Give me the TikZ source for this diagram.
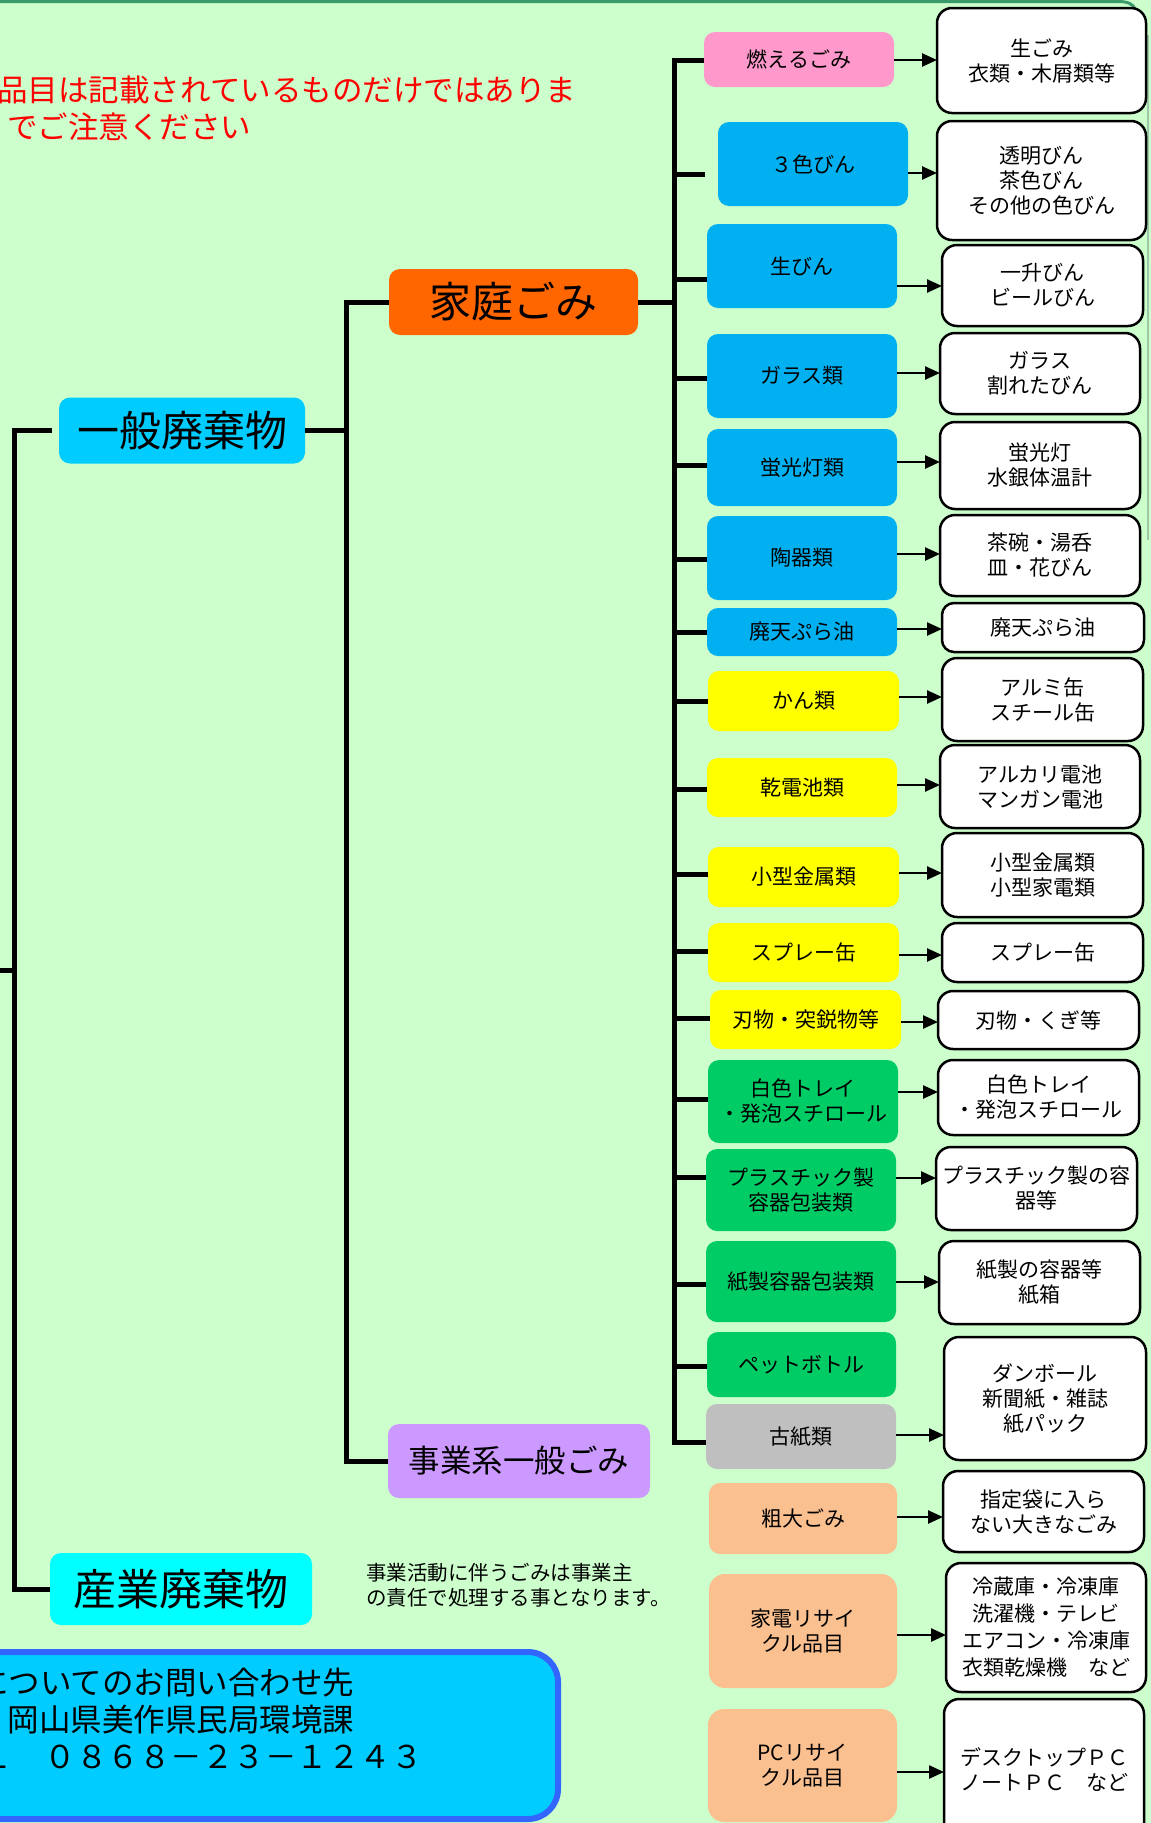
\documentclass[tikz,border=0pt]{standalone}
\usepackage{fontspec}
\setmainfont{Noto Sans CJK JP}
\usetikzlibrary{arrows.meta}
\definecolor{bgc}{HTML}{CCFFCC}
\definecolor{pinkc}{HTML}{FF99CC}
\definecolor{bluec}{HTML}{00B0F0}
\definecolor{yellowc}{HTML}{FFFF00}
\definecolor{greenc}{HTML}{00CC66}
\definecolor{grayc}{HTML}{BFBFBF}
\definecolor{peachc}{HTML}{FAC090}
\definecolor{ippanc}{HTML}{00CCFF}
\definecolor{kateic}{HTML}{FF6600}
\definecolor{jigyoc}{HTML}{CC99FF}
\definecolor{sangyoc}{HTML}{00FFFF}
\definecolor{contactb}{HTML}{3366FF}
\definecolor{framec}{HTML}{3A9A6A}
\definecolor{framel}{HTML}{9CC8A8}
\newcommand\tickto[2]{\coordinate (t#1) at (674.5,#2); \draw[trunk] (t#1) -- (t#1 -| c#1.west);}
\newcommand\arrowat[2]{\coordinate (y#1) at (0,#2); \draw[arr] (y#1 -| c#1.east) -- (y#1 -| r#1.west);}
\begin{document}
\begin{tikzpicture}[x=1pt,y=-1pt,
  cat/.style={rounded corners=11pt, inner sep=0pt, outer sep=0pt, align=center, text=black, font=\fontsize{21}{25}\selectfont},
  res/.style={draw=black, line width=2.5pt, fill=white, rounded corners=15pt, inner sep=0pt, outer sep=0pt, align=center, font=\fontsize{21}{25}\selectfont},
  big/.style={rounded corners=11pt, inner sep=0pt, outer sep=0pt, align=center},
  trunk/.style={line width=5pt, black},
  arr/.style={line width=2.5pt, black, -{Triangle[length=15pt,width=13pt]}},
  plain/.style={inner sep=0pt, outer sep=0pt}
]
\useasboundingbox (0,0) rectangle (1151,1823);
\clip (0,0) rectangle (1151,1823);
\fill[bgc] (0,0) rectangle (1151,1823);
% frame remnants
\draw[framec, line width=3pt] (-10,1.5) -- (1118,1.5) .. controls (1128,1.5) and (1133,4) .. (1135,9);
\draw[framel, line width=1.5pt] (1148,35) -- (1148,540);

% warning text
\node[plain, anchor=east, text=red, font=\fontsize{30.5}{36}\selectfont] (warn1) at (576,90) {品目は記載されているものだけではありま};
\node[plain, anchor=west, text=red, font=\fontsize{30.5}{36}\selectfont] (warn2) at (7,127) {でご注意ください};

% upper level boxes
\node[big, fill=ippanc, minimum width=246pt, minimum height=66pt, font=\fontsize{42}{46}\selectfont] (ippan) at (182,430.5) {一般廃棄物};
\node[big, fill=kateic, minimum width=249pt, minimum height=66pt, font=\fontsize{42}{46}\selectfont] (katei) at (513.5,302) {家庭ごみ};
\node[big, fill=jigyoc, minimum width=262pt, minimum height=74pt, font=\fontsize{31.5}{35}\selectfont] (jigyo) at (519,1461) {事業系一般ごみ};
\node[big, fill=sangyoc, minimum width=262pt, minimum height=72pt, font=\fontsize{43}{47}\selectfont] (sangyo) at (181,1589) {産業廃棄物};

% level 1 lines
\coordinate (a1) at (52,430.5);
\coordinate (lvtop) at (14.5,430.5);
\coordinate (lvbot) at (14.5,1589);
\draw[trunk] (a1) -- (lvtop) -- (lvbot) -- (sangyo.west);
\coordinate (lvtick) at (14.5,970);
\coordinate (offl) at (-5,970);
\draw[trunk] (lvtick) -- (offl);

% level 2 lines
\coordinate (v2top) at (346.5,302);
\coordinate (v2bot) at (346.5,1461);
\draw[trunk] (katei.west) -- (v2top) -- (v2bot) -- (jigyo.west);
\draw[trunk] (ippan.east) -- (ippan.east -| v2top);

% category boxes
\node[cat, fill=pinkc,   minimum width=190pt, minimum height=55pt] (c1) at (799,59.5) {燃えるごみ};
\node[cat, fill=bluec,   minimum width=190pt, minimum height=84pt] (c2) at (813,164) {３色びん};
\node[cat, fill=bluec,   minimum width=190pt, minimum height=84pt] (c3) at (802,266) {生びん};
\node[cat, fill=bluec,   minimum width=190pt, minimum height=84pt] (c4) at (802,376) {ガラス類};
\node[cat, fill=bluec,   minimum width=190pt, minimum height=77pt] (c5) at (802,467.5) {蛍光灯類};
\node[cat, fill=bluec,   minimum width=190pt, minimum height=84pt] (c6) at (802,558) {陶器類};
\node[cat, fill=bluec,   minimum width=190pt, minimum height=48pt] (c7) at (802,632) {廃天ぷら油};
\node[cat, fill=yellowc, minimum width=191pt, minimum height=60pt] (c8) at (803.5,701) {かん類};
\node[cat, fill=yellowc, minimum width=190pt, minimum height=59pt] (c9) at (802,787.5) {乾電池類};
\node[cat, fill=yellowc, minimum width=191pt, minimum height=60pt] (c10) at (803.5,877) {小型金属類};
\node[cat, fill=yellowc, minimum width=191pt, minimum height=59pt] (c11) at (803.5,952.5) {スプレー缶};
\node[cat, fill=yellowc, minimum width=191pt, minimum height=59pt] (c12) at (805.5,1019.5) {刃物・突鋭物等};
\node[cat, fill=greenc,  minimum width=190pt, minimum height=83pt] (c13) at (803,1101.5) {白色トレイ\\・発泡スチロール};
\node[cat, fill=greenc,  minimum width=190pt, minimum height=82pt] (c14) at (801,1190) {プラスチック製\\容器包装類};
\node[cat, fill=greenc,  minimum width=190pt, minimum height=81pt] (c15) at (801,1281.5) {紙製容器包装類};
\node[cat, fill=greenc,  minimum width=189pt, minimum height=65pt] (c16) at (801.5,1364.5) {ペットボトル};
\node[cat, fill=grayc,   minimum width=190pt, minimum height=65pt] (c17) at (801,1436.5) {古紙類};
\node[cat, fill=peachc,  minimum width=188pt, minimum height=71pt] (c18) at (803,1518.5) {粗大ごみ};
\node[cat, fill=peachc,  minimum width=188pt, minimum height=114pt, rounded corners=16pt] (c19) at (803,1631) {家電リサイ\\クル品目};
\node[cat, fill=peachc,  minimum width=189pt, minimum height=113pt, rounded corners=16pt] (c20) at (802.5,1765.5) {PCリサイ\\クル品目};

% result boxes
\node[res, minimum width=209pt, minimum height=105pt] (r1) at (1041.5,60.5) {生ごみ\\衣類・木屑類等};
\node[res, minimum width=209pt, minimum height=119pt] (r2) at (1041.5,180.5) {透明びん\\茶色びん\\その他の色びん};
\node[res, minimum width=201pt, minimum height=81pt] (r3) at (1042.5,285.5) {一升びん\\ビールびん};
\node[res, minimum width=200pt, minimum height=81pt] (r4) at (1040,373.5) {ガラス\\割れたびん};
\node[res, minimum width=200pt, minimum height=87pt] (r5) at (1040,465.5) {蛍光灯\\水銀体温計};
\node[res, minimum width=200pt, minimum height=81pt] (r6) at (1040,555.5) {茶碗・湯呑\\皿・花びん};
\node[res, minimum width=202pt, minimum height=49pt, rounded corners=12pt] (r7) at (1043,627.5) {廃天ぷら油};
\node[res, minimum width=201pt, minimum height=83pt] (r8) at (1042.5,699.5) {アルミ缶\\スチール缶};
\node[res, minimum width=200pt, minimum height=83pt] (r9) at (1040,786.5) {アルカリ電池\\マンガン電池};
\node[res, minimum width=201pt, minimum height=84pt] (r10) at (1042.5,875) {小型金属類\\小型家電類};
\node[res, minimum width=201pt, minimum height=59pt] (r11) at (1042.5,952.5) {スプレー缶};
\node[res, minimum width=201pt, minimum height=58pt] (r12) at (1038.5,1020) {刃物・くぎ等};
\node[res, minimum width=201pt, minimum height=75pt] (r13) at (1038.5,1097.5) {白色トレイ\\・発泡スチロール};
\node[res, minimum width=201pt, minimum height=83pt] (r14) at (1036.5,1188.5) {プラスチック製の容\\器等};
\node[res, minimum width=201pt, minimum height=83pt] (r15) at (1039.5,1282.5) {紙製の容器等\\紙箱};
\node[res, minimum width=202pt, minimum height=123pt] (r17) at (1045,1398.5) {ダンボール\\新聞紙・雑誌\\紙パック};
\node[res, minimum width=201pt, minimum height=81pt] (r18) at (1043.5,1511.5) {指定袋に入ら\\ない大きなごみ};
\node[res, minimum width=200pt, minimum height=129pt, font=\fontsize{21}{27}\selectfont] (r19) at (1046,1627.5) {冷蔵庫・冷凍庫\\洗濯機・テレビ\\エアコン・冷凍庫\\衣類乾燥機　など};
\node[res, minimum width=200pt, minimum height=141pt] (r20) at (1044,1769.5) {デスクトップＰＣ\\ノートＰＣ　など};

% level 3 bus
\coordinate (busTop) at (674.5,60);
\coordinate (busBot) at (674.5,1442);
\draw[trunk] (busTop -| c1.west) -- (busTop) -- (busBot) -- (busBot -| c17.west);
\draw[trunk] (katei.east) -- (katei.east -| busTop);
\coordinate (t2) at (674.5,174);
\coordinate (t2e) at (705,174);
\draw[trunk] (t2) -- (t2e);
\tickto{3}{279}
\tickto{4}{378}
\tickto{5}{465}
\tickto{6}{559}
\tickto{7}{632}
\tickto{8}{701}
\tickto{9}{789}
\tickto{10}{874}
\tickto{11}{951}
\tickto{12}{1018}
\tickto{13}{1099}
\tickto{14}{1177}
\tickto{15}{1284}
\tickto{16}{1366}

% arrows
\arrowat{1}{60}
\arrowat{2}{173}
\arrowat{3}{286}
\arrowat{4}{373}
\arrowat{5}{462}
\arrowat{6}{554}
\arrowat{7}{629}
\arrowat{8}{697}
\arrowat{9}{785}
\arrowat{10}{873}
\arrowat{11}{955}
\arrowat{12}{1022}
\arrowat{13}{1092}
\arrowat{14}{1178}
\arrowat{15}{1282}
\arrowat{17}{1435}
\arrowat{18}{1517}
\arrowat{19}{1635}
\arrowat{20}{1772}

% note
\node[plain, anchor=west, align=left, font=\fontsize{20.5}{25}\selectfont] (note) at (366,1585.5) {事業活動に伴うごみは事業主\\の責任で処理する事となります。};

% contact box
\node[plain, draw=contactb, line width=6pt, fill=ippanc, rounded corners=30pt, anchor=north west, minimum width=598pt, minimum height=167pt] (contact) at (-40,1652) {};
\node[plain, anchor=west, font=\fontsize{31.5}{36}\selectfont] (ct1) at (-23,1683) {についてのお問い合わせ先};
\node[plain, anchor=west, font=\fontsize{31.5}{36}\selectfont] (ct2) at (8,1720) {岡山県美作県民局環境課};
\node[plain, anchor=west, font=\fontsize{31.5}{36}\selectfont] (ct3) at (-81,1757) {ＴＥＬ　０８６８－２３－１２４３};
\end{tikzpicture}
\end{document}
